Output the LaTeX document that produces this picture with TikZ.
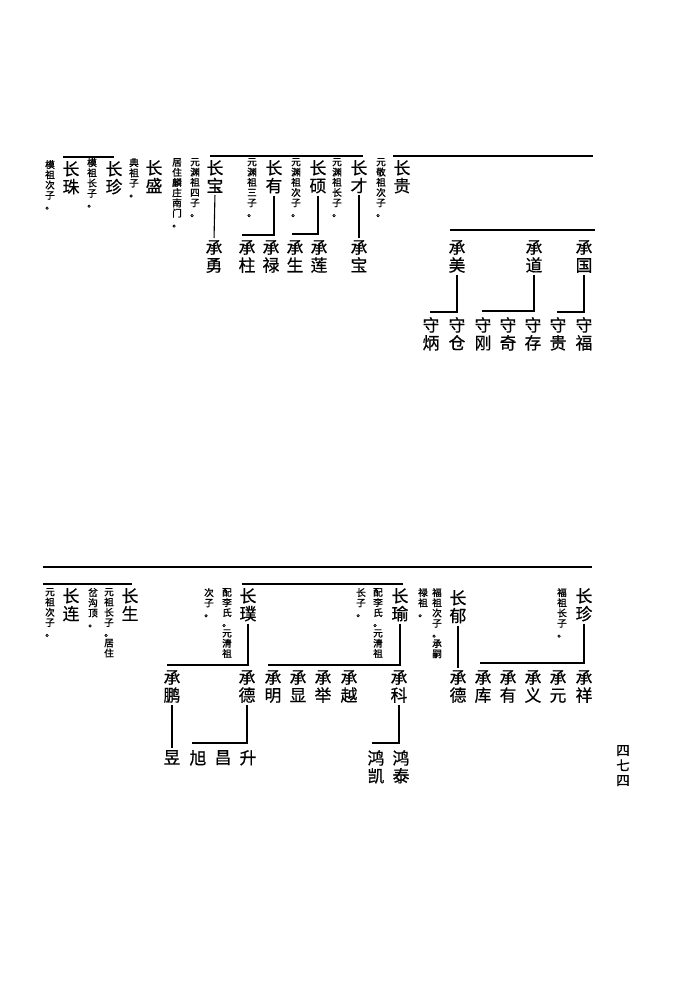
\documentclass[tikz,border=0pt]{standalone}
\usepackage{fontspec}
\newfontfamily\cjk[FakeBold=0.6]{Noto Sans CJK SC}
\newfontfamily\cjkb[FakeBold=1.4]{Noto Sans CJK SC}
\begin{document}
\begin{tikzpicture}[x=1pt,y=-1pt,
  nm/.style={font=\cjk\fontsize{16.8}{17.8}\selectfont, inner sep=0pt, align=center, text width=17pt, anchor=north},
  nt/.style={font=\cjkb\fontsize{9.6}{10.2}\selectfont, inner sep=0pt, align=center, text width=10pt, anchor=north},
  pg/.style={font=\cjk\fontsize{13.5}{15}\selectfont, inner sep=0pt, align=center, text width=14pt, anchor=north},
  ln/.style={line width=1.1pt, shorten <=2pt, shorten >=2pt},
  el/.style={line width=1.1pt, shorten <=2pt},
  bar/.style={line width=1.4pt},
  hbar/.style={line width=2.4pt}]
\useasboundingbox (0,0) rectangle (674,1007);

% ---------------- top section ----------------
\node[nm] (gui) at (402,160) {长\\贵};
\node[nt] (ngui) at (381,158) {元\\敬\\祖\\次\\子\\。};
\node[nm] (cai) at (359,160) {长\\才};
\node[nt] (ncai) at (337,158) {元\\渊\\祖\\长\\子\\。};
\node[nm] (shuo) at (318,160) {长\\硕};
\node[nt] (nshuo) at (296,158) {元\\渊\\祖\\次\\子\\。};
\node[nm] (you) at (274,160) {长\\有};
\node[nt] (nyou) at (252,158) {元\\渊\\祖\\三\\子\\。};
\node[nm] (bao) at (215,160) {长\\宝};
\node[nt] (nbaoa) at (195,158) {元\\渊\\祖\\四\\子\\。};
\node[nt] (nbaob) at (177,158) {居\\住\\麟\\庄\\南\\门\\。};
\node[nm] (sheng) at (154,160) {长\\盛};
\node[nt] (nsheng) at (134,158) {典\\祖\\子\\。};
\node[nm] (zhen) at (114,161) {长\\珍};
\node[nt] (nzhen) at (92,158) {模\\祖\\长\\子\\。};
\node[nm] (zhu) at (71,161) {长\\珠};
\node[nt] (nzhu) at (50,160) {模\\祖\\次\\子\\。};

\node[nm] (cbao) at (359,240) {承\\宝};
\node[nm] (clian) at (319,240) {承\\莲};
\node[nm] (csheng) at (295,240) {承\\生};
\node[nm] (clu) at (271,240) {承\\禄};
\node[nm] (czhu) at (247,240) {承\\柱};
\node[nm] (cyong) at (214,240) {承\\勇};

\node[nm] (cmei) at (457,240) {承\\美};
\node[nm] (cdao) at (534,240) {承\\道};
\node[nm] (cguo) at (584,240) {承\\国};

\node[nm] (sbing) at (431,317) {守\\炳};
\node[nm] (scang) at (457,317) {守\\仓};
\node[nm] (sgang) at (483,317) {守\\刚};
\node[nm] (sqi) at (508,317) {守\\奇};
\node[nm] (scun) at (533,317) {守\\存};
\node[nm] (sgui) at (558,317) {守\\贵};
\node[nm] (sfu) at (584,317) {守\\福};

\coordinate (gr) at (593,156);
\draw[bar] ([yshift=4pt]gui.north west) -- (gr);
\draw[bar] ([xshift=-5pt,yshift=4pt]bao.north) -- ([xshift=4pt,yshift=4pt]cai.north);
\draw[bar] ([xshift=-8pt,yshift=4pt]zhu.north) -- ([yshift=4pt]zhen.north);
\draw[bar] ([xshift=-7pt,yshift=10pt]cmei.north) -- ([xshift=11pt,yshift=10pt]cguo.north);

\draw[ln] (cai.south) -- (cbao.north);
\draw[el] (shuo.south) |- ([xshift=-3pt,yshift=6pt]csheng.north);
\draw[el] (you.south) |- ([xshift=-5pt,yshift=5pt]czhu.north);
\draw[ln] (bao.south) -- (cyong.north);

\draw[el] (cmei.south) |- ([xshift=-1pt,yshift=5pt]sbing.north);
\draw[el] (cdao.south) |- ([xshift=-1pt,yshift=6pt]sgang.north);
\draw[el] (cguo.south) |- ([xshift=-1pt,yshift=5pt]sgui.north);

% ---------------- bottom section ----------------
\coordinate (hl) at (43,567);
\coordinate (hr) at (592,567);
\draw[hbar] (hl) -- (hr);

\node[nm] (lsheng) at (130,588) {长\\生};
\node[nt] (nlsa) at (109,588) {元\\祖\\长\\子\\。\\居\\住};
\node[nt] (nlsb) at (93,588) {岔\\沟\\顶\\。};
\node[nm] (llian) at (71,588) {长\\连};
\node[nt] (nllian) at (50,588) {元\\祖\\次\\子\\。};

\node[nm] (lpu) at (248,588) {长\\璞};
\node[nt] (npua) at (227,588) {配\\李\\氏\\。\\元\\清\\祖};
\node[nt] (npub) at (209,588) {次\\子\\。};
\node[nm] (lyu) at (400,588) {长\\瑜};
\node[nt] (nyua) at (378,588) {配\\李\\氏\\。\\元\\清\\祖};
\node[nt] (nyub) at (361,588) {长\\子\\。};
\node[nt] (nyuc) at (423,588) {禄\\祖\\。};
\node[nm] (lyuu) at (458,590) {长\\郁};
\node[nt] (nyuu) at (437,588) {福\\祖\\次\\子\\。\\承\\嗣};
\node[nm] (lzhen) at (584,588) {长\\珍};
\node[nt] (nlzhen) at (562,588) {福\\祖\\长\\子\\。};

\node[nm] (cpeng) at (172,670) {承\\鹏};
\node[nm] (cdea) at (247,670) {承\\德};
\node[nm] (cming) at (273,670) {承\\明};
\node[nm] (cxian) at (298,670) {承\\显};
\node[nm] (cju) at (323,670) {承\\举};
\node[nm] (cyue) at (349,670) {承\\越};
\node[nm] (cke) at (399,670) {承\\科};
\node[nm] (cdeb) at (458,670) {承\\德};
\node[nm] (cku) at (483,670) {承\\库};
\node[nm] (cyou) at (508,670) {承\\有};
\node[nm] (cyi) at (533,670) {承\\义};
\node[nm] (cyuan) at (558,670) {承\\元};
\node[nm] (cxiang) at (584,670) {承\\祥};

\node[nm] (gyu) at (172,750) {昱};
\node[nm] (gxu) at (198,750) {旭};
\node[nm] (gchang) at (223,750) {昌};
\node[nm] (gsheng) at (248,750) {升};
\node[nm] (htai) at (401,750) {鸿\\泰};
\node[nm] (hkai) at (376,750) {鸿\\凯};

\draw[bar] ([xshift=-28pt,yshift=4pt]llian.north) -- ([xshift=2pt,yshift=4pt]lsheng.north);
\draw[bar] ([xshift=-6pt,yshift=4pt]lpu.north) -- ([xshift=3pt,yshift=4pt]lyu.north);

\draw[el] (lpu.south) |- ([xshift=-5pt,yshift=5pt]cpeng.north);
\draw[el] (lyu.south) |- ([xshift=-5pt,yshift=5pt]cming.north);
\draw[ln] (lyuu.south) -- (cdeb.north);
\draw[el] (lzhen.south) |- ([xshift=-3pt,yshift=7pt]cku.north);

\draw[ln] (cpeng.south) -- (gyu.north);
\draw[el] (cdea.south) |- ([xshift=-6pt,yshift=7pt]gxu.north);
\draw[el] (cke.south) |- ([xshift=-4pt,yshift=7pt]hkai.north);

\node[pg] (pn) at (623,745) {四\\七\\四};
\end{tikzpicture}
\end{document}
